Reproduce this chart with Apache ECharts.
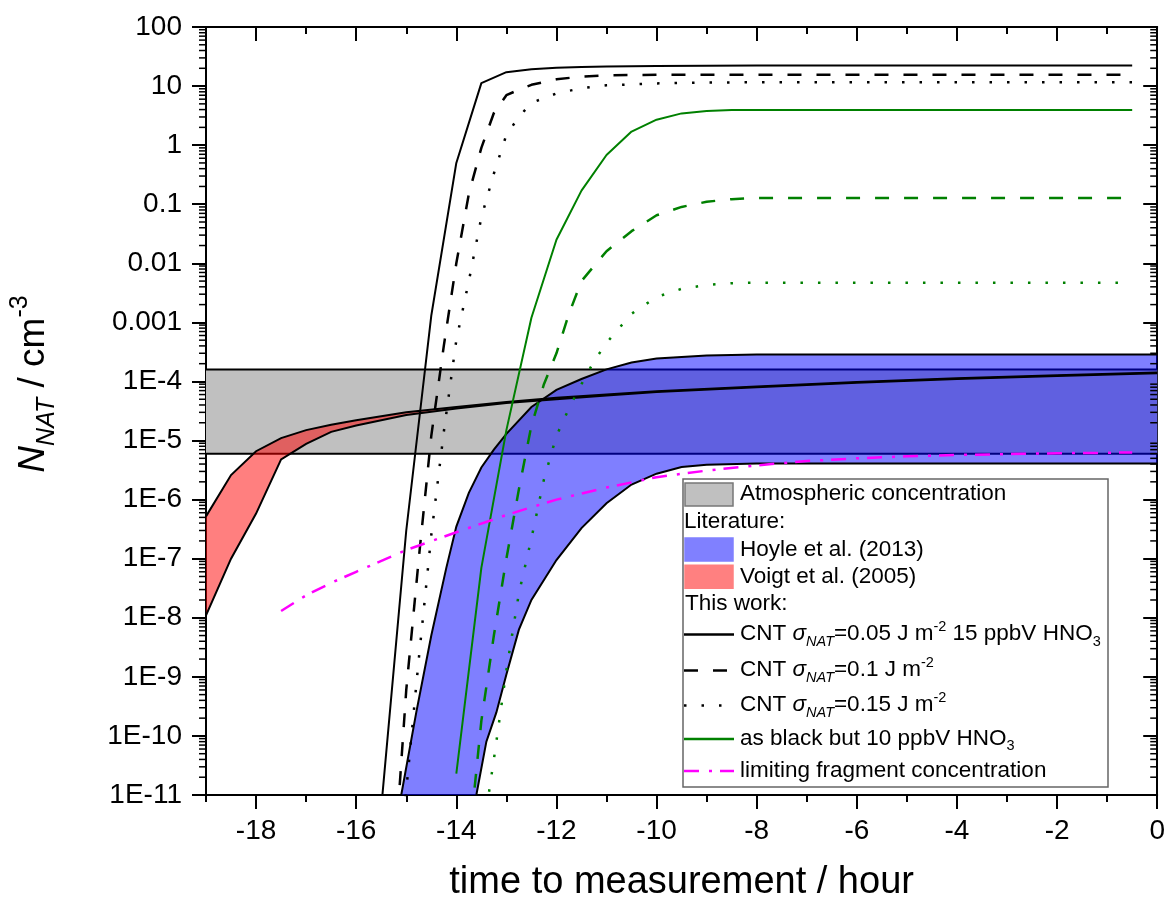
<!DOCTYPE html>
<html>
<head>
<meta charset="utf-8">
<script src="https://cdn.jsdelivr.net/npm/echarts@6/dist/echarts.min.js"></script>
<style>
html, body { margin: 0; padding: 0; background: #fff; }
#main { width: 1168px; height: 907px; }
</style>
</head>
<body>
<div id="main"></div>
<script>
// axis ticks
var xMajorTicks = [-18, -16, -14, -12, -10, -8, -6, -4, -2, 0];
var xMinorTicks = [-19, -17, -15, -13, -11, -9, -7, -5, -3, -1];
var yTickLabels = ['1E-11', '1E-10', '1E-9', '1E-8', '1E-7', '1E-6', '1E-5', '1E-4',
                   '0.001', '0.01', '0.1', '1', '10', '100'];
var yMinorSteps = [2, 3, 4, 5, 6, 7, 8, 9];

// atmospheric concentration band (cm^-3)
var atmosX = [-19, 0];
var atmosLow = [6e-6, 6e-6];
var atmosHigh = [1.6e-4, 1.6e-4];

// Hoyle et al. (2013) band
var hoyleUpX = [-15.1, -14.8, -14.5, -14.2, -14, -13.75, -13.5, -13.25, -13, -12.5, -12, -11.5, -11, -10.5, -10, -9, -8, -6, -4, -2, 0];
var hoyleUp = [1e-11, 2.5e-10, 5e-9, 7e-8, 3.5e-7, 1.3e-6, 3.5e-6, 7e-6, 1.3e-5, 3.7e-5, 7.2e-5, 1.1e-4, 1.6e-4, 2.1e-4, 2.45e-4, 2.75e-4, 2.85e-4, 2.85e-4, 2.85e-4, 2.85e-4, 2.85e-4];
var hoyleLowX = [-13.6, -13.4, -13.2, -13, -12.75, -12.5, -12, -11.5, -11, -10.5, -10, -9.5, -9, -8, -6, -4, -2, 0];
var hoyleLow = [1e-11, 8e-11, 2.5e-10, 1.1e-9, 6.3e-9, 2e-8, 9.5e-8, 3.3e-7, 8.7e-7, 1.8e-6, 2.75e-6, 3.55e-6, 3.9e-6, 4.1e-6, 4.1e-6, 4.1e-6, 4.1e-6, 4.1e-6];

// Voigt et al. (2005) band
var voigtX = [-19, -18.5, -18, -17.5, -17, -16.5, -16, -15, -14, -13, -12, -11, -10, -8, -6, -4, -2, 0];
var voigtHigh = [5.2e-7, 2.6e-6, 6.6e-6, 1.1e-5, 1.5e-5, 1.85e-5, 2.2e-5, 3.0e-5, 3.7e-5, 4.5e-5, 5.3e-5, 6.0e-5, 6.8e-5, 8.2e-5, 9.8e-5, 1.13e-4, 1.27e-4, 1.42e-4];
var voigtLow = [1.1e-8, 1.0e-7, 5.8e-7, 4.8e-6, 8.8e-6, 1.4e-5, 1.8e-5, 2.7e-5, 3.5e-5, 4.3e-5, 5.0e-5, 5.8e-5, 6.6e-5, 8.0e-5, 9.5e-5, 1.1e-4, 1.24e-4, 1.38e-4];

// CNT, 15 ppbV HNO3
var cnt005X = [-15.5, -15, -14.5, -14, -13.5, -13, -12.5, -12, -11.5, -11, -10, -9, -8, -6, -4, -2, -0.5];
var cnt005 = [6e-12, 3e-7, 1.3e-3, 0.5, 11.2, 17.2, 19.3, 20.4, 21, 21.4, 21.9, 22.1, 22.2, 22.2, 22.2, 22.2, 22.2];
var cnt01X = [-15.25, -15, -14.75, -14.5, -14.25, -14, -13.75, -13.5, -13.25, -13, -12.75, -12.5, -12, -11.5, -11, -10, -9, -8, -6, -4, -2, -0.5];
var cnt01 = [5e-13, 6e-10, 1e-7, 1.2e-5, 4e-4, 0.01, 0.15, 0.9, 3.5, 7.0, 8.7, 10.5, 13, 14.5, 15.2, 15.5, 15.6, 15.6, 15.6, 15.6, 15.6, 15.6];
var cnt015X = [-15.25, -15, -14.75, -14.5, -14.25, -14, -13.75, -13.5, -13.25, -13, -12.75, -12.5, -12, -11.5, -11, -10, -9, -8, -6, -4, -2, -0.5];
var cnt015 = [8e-14, 1.2e-11, 2e-9, 2.5e-7, 1.4e-5, 5e-4, 5e-3, 0.06, 0.33, 1.5, 3.0, 5.2, 7.5, 9.2, 10.3, 11.1, 11.5, 11.6, 11.6, 11.6, 11.6, 11.6];

// CNT, 10 ppbV HNO3
var hno10aX = [-14, -13.5, -13, -12.5, -12, -11.5, -11, -10.5, -10, -9.5, -9, -8.5, -8, -6, -4, -2, -0.5];
var hno10a = [2.3e-11, 7e-8, 1.5e-5, 1.2e-3, 0.025, 0.17, 0.68, 1.7, 2.7, 3.45, 3.8, 3.92, 3.95, 3.95, 3.95, 3.95, 3.95];
var hno10bX = [-13.75, -13.5, -13.25, -13, -12.75, -12.5, -12.25, -12, -11.75, -11.5, -11.25, -11, -10.5, -10, -9.5, -9, -8.5, -8, -6, -4, -2, -0.5];
var hno10b = [1.4e-12, 1.8e-10, 5e-9, 1e-7, 1.5e-6, 1.8e-5, 9e-5, 3e-4, 1.4e-3, 5e-3, 9e-3, 0.016, 0.035, 0.065, 0.09, 0.11, 0.122, 0.127, 0.128, 0.128, 0.128, 0.128];
var hno10cX = [-13.5, -13.25, -13, -12.75, -12.5, -12.25, -12, -11.75, -11.5, -11.25, -11, -10.5, -10, -9.5, -9, -8.5, -8, -6, -4, -2, -0.5];
var hno10c = [1.5e-12, 4e-11, 1.3e-9, 2.6e-8, 2.2e-7, 2.2e-6, 1.2e-5, 3.5e-5, 9e-5, 2.2e-4, 4.5e-4, 1.4e-3, 2.7e-3, 3.7e-3, 4.3e-3, 4.6e-3, 4.7e-3, 4.7e-3, 4.7e-3, 4.7e-3, 4.7e-3];

// limiting fragment concentration
var fragX = [-17.5, -17, -16.5, -16, -15, -14, -13, -12, -11, -10, -9, -8, -7, -6, -5, -4, -3, -2, -1, -0.5];
var frag = [1.3e-8, 2.4e-8, 3.9e-8, 6e-8, 1.4e-7, 2.8e-7, 5.5e-7, 1.0e-6, 1.6e-6, 2.4e-6, 3.1e-6, 3.8e-6, 4.5e-6, 5.0e-6, 5.4e-6, 5.7e-6, 5.9e-6, 6.1e-6, 6.2e-6, 6.3e-6];

var FONT = 'Liberation Sans, Arial, sans-serif';

function pairs(xs, ys) {
    return xs.map(function (x, i) { return [x, ys[i]]; });
}

// filled band between two curves, with optional black outlines
function bandSeries(name, upper, lower, fill, edgeWidth) {
    return {
        name: name,
        type: 'custom',
        clip: true,
        silent: true,
        data: [upper[0]],
        renderItem: function (params, api) {
            var up = upper.map(function (p) { return api.coord(p); });
            var lo = lower.map(function (p) { return api.coord(p); });
            var children = [{
                type: 'polygon',
                shape: { points: up.concat(lo.slice().reverse()) },
                style: { fill: fill }
            }];
            if (edgeWidth) {
                children.push({ type: 'polyline', shape: { points: up }, style: { stroke: '#000', lineWidth: edgeWidth, fill: 'none' } });
                children.push({ type: 'polyline', shape: { points: lo }, style: { stroke: '#000', lineWidth: edgeWidth, fill: 'none' } });
            }
            return { type: 'group', children: children };
        }
    };
}

function lineSeries(name, xs, ys, color, dash, width) {
    return {
        name: name,
        type: 'line',
        data: pairs(xs, ys),
        symbol: 'none',
        showSymbol: false,
        silent: true,
        clip: true,
        z: 5,
        lineStyle: { color: color, width: width || 2, type: dash || 'solid' }
    };
}

// log minor ticks on left (outside) and right (inside)
var yMinorTicks = [];
for (var d = -11; d < 2; d++) {
    yMinorSteps.forEach(function (m) { yMinorTicks.push([-19, m * Math.pow(10, d)]); });
}

var minorTickSeries = {
    type: 'custom',
    clip: false,
    silent: true,
    z: 10,
    data: yMinorTicks,
    renderItem: function (params, api) {
        var v = api.value(1);
        var l = api.coord([-19, v]);
        var r = api.coord([0, v]);
        return {
            type: 'group',
            children: [
                { type: 'line', shape: { x1: l[0] - 7, y1: l[1], x2: l[0], y2: l[1] }, style: { stroke: '#000', lineWidth: 1.5 } },
                { type: 'line', shape: { x1: r[0] - 7, y1: r[1], x2: r[0], y2: r[1] }, style: { stroke: '#000', lineWidth: 1.5 } }
            ]
        };
    }
};

var tickLine = { color: '#000', width: 2 };

function xAxisDef(pos, ticks, len, inside, main) {
    return {
        type: 'value',
        position: pos,
        min: -19,
        max: 0,
        axisLine: { show: main, onZero: false, lineStyle: { color: '#000', width: 2 } },
        axisTick: { show: true, customValues: ticks, length: len, inside: inside, lineStyle: tickLine },
        axisLabel: (pos === 'bottom' && main) ? {
            show: true, customValues: xMajorTicks, margin: 22,
            fontSize: 28, fontFamily: FONT, color: '#000'
        } : { show: false },
        splitLine: { show: false }
    };
}

var xAxes = [
    xAxisDef('bottom', xMajorTicks, 14, false, true),
    xAxisDef('bottom', xMinorTicks, 7, false, false),
    xAxisDef('top', xMajorTicks, 14, true, true),
    xAxisDef('top', xMinorTicks, 7, true, false)
];
xAxes[0].name = 'time to measurement / hour';
xAxes[0].nameLocation = 'middle';
xAxes[0].nameGap = 69;
xAxes[0].nameTextStyle = { fontSize: 38, fontFamily: FONT, color: '#000' };

var nameRich = {
    i: { fontSize: 37, fontFamily: FONT, fontStyle: 'italic', lineHeight: 52, color: '#000' },
    sub: { fontSize: 25, fontFamily: FONT, fontStyle: 'italic', lineHeight: 24, verticalAlign: 'bottom', color: '#000' },
    t: { fontSize: 37, fontFamily: FONT, lineHeight: 52, color: '#000' },
    sup: { fontSize: 25, fontFamily: FONT, lineHeight: 24, verticalAlign: 'top', color: '#000' }
};

var yAxes = [{
    type: 'log',
    position: 'left',
    min: 1e-11,
    max: 100,
    interval: 1,
    axisLine: { show: true, onZero: false, lineStyle: { color: '#000', width: 2 } },
    axisTick: { show: true, length: 14, inside: false, lineStyle: tickLine },
    axisLabel: {
        margin: 24, fontSize: 28, fontFamily: FONT, color: '#000',
        formatter: function (v) {
            return yTickLabels[Math.round(Math.log(v) / Math.LN10) + 11] || '';
        }
    },
    splitLine: { show: false },
    name: '{i|N}{sub|NAT}{t| / cm}{sup|-3}',
    nameLocation: 'middle',
    nameGap: 146,
    nameTextStyle: { fontSize: 37, fontFamily: FONT, color: '#000', lineHeight: 52, padding: [0, 0, 0, 54], rich: nameRich }
}, {
    type: 'log',
    position: 'right',
    min: 1e-11,
    max: 100,
    interval: 1,
    axisLine: { show: true, onZero: false, lineStyle: { color: '#000', width: 2 } },
    axisTick: { show: true, length: 14, inside: true, lineStyle: tickLine },
    axisLabel: { show: false },
    splitLine: { show: false }
}];

// legend drawn as graphic elements
var legRich = {
    i: { fontSize: 22.5, fontFamily: FONT, fontStyle: 'italic', lineHeight: 30, fill: '#000' },
    sub: { fontSize: 14.5, fontFamily: FONT, fontStyle: 'italic', lineHeight: 14, verticalAlign: 'bottom', fill: '#000' },
    s: { fontSize: 14.5, fontFamily: FONT, lineHeight: 14, verticalAlign: 'bottom', fill: '#000' },
    sup: { fontSize: 14.5, fontFamily: FONT, lineHeight: 14, verticalAlign: 'top', fill: '#000' }
};
var legend = [];
legend.push({ type: 'rect', z: 100, shape: { x: 683, y: 479, width: 425, height: 308 }, style: { fill: '#fff', stroke: '#666', lineWidth: 1.5 } });
function swatch(y, fill, stroke) {
    legend.push({ type: 'rect', z: 101, shape: { x: 685, y: y - 11.5, width: 48, height: 23 }, style: { fill: fill, stroke: stroke, lineWidth: 1.5 } });
}
function sample(y, color, dash) {
    legend.push({ type: 'line', z: 101, shape: { x1: 684, y1: y, x2: 734, y2: y }, style: { stroke: color, lineWidth: 2.5, lineDash: dash } });
}
function label(x, y, text) {
    legend.push({ type: 'text', z: 101, x: x, y: y, style: {
        text: text, fontSize: 22.5, fontFamily: FONT, fill: '#000',
        verticalAlign: 'middle', align: 'left', lineHeight: 30, rich: legRich
    } });
}
swatch(494.5, '#c0c0c0', '#777');
label(740, 494, 'Atmospheric concentration');
label(684, 521.5, 'Literature:');
swatch(549.5, '#8080ff', '#8080ff');
label(740, 549.5, 'Hoyle et al. (2013)');
swatch(576.7, '#ff8080', '#ff8080');
label(740, 576.5, 'Voigt et al. (2005)');
label(685, 604, 'This work:');
sample(634.5, '#000', null);
label(740, 634, 'CNT {i|σ}{sub|NAT}=0.05 J m{sup|-2} 15 ppbV HNO{s|3}');
sample(670.5, '#000', [14, 15]);
label(740, 670, 'CNT {i|σ}{sub|NAT}=0.1 J m{sup|-2}');
sample(705.5, '#000', [2.5, 15]);
label(740, 705, 'CNT {i|σ}{sub|NAT}=0.15 J m{sup|-2}');
sample(739, '#008000', null);
label(740, 738.5, 'as black but 10 ppbV HNO{s|3}');
sample(771, '#ff00ff', [15, 10, 3, 8]);
label(740, 770.5, 'limiting fragment concentration');

var myChart = echarts.init(document.getElementById('main'));

var option = {
    animation: false,
    backgroundColor: '#fff',
    grid: { left: 203, right: 10, top: 27, bottom: 110 },
    xAxis: xAxes,
    yAxis: yAxes,
    series: [
        bandSeries('Atmospheric concentration', pairs(atmosX, atmosHigh), pairs(atmosX, atmosLow), '#c0c0c0', 2),
        bandSeries('Hoyle et al. (2013)', pairs(hoyleUpX, hoyleUp), pairs(hoyleLowX, hoyleLow), 'rgba(0,0,255,0.5)', 0),
        bandSeries('Voigt et al. (2005)', pairs(voigtX, voigtHigh), pairs(voigtX, voigtLow), 'rgba(255,0,0,0.5)', 2),
        {
            // black outlines of the Hoyle band, above the fills
            type: 'custom', clip: true, silent: true, z: 3,
            data: [[hoyleUpX[0], hoyleUp[0]]],
            renderItem: function (params, api) {
                var up = pairs(hoyleUpX, hoyleUp).map(function (p) { return api.coord(p); });
                var lo = pairs(hoyleLowX, hoyleLow).map(function (p) { return api.coord(p); });
                return { type: 'group', children: [
                    { type: 'polyline', shape: { points: up }, style: { stroke: '#000', lineWidth: 2, fill: 'none' } },
                    { type: 'polyline', shape: { points: lo }, style: { stroke: '#000', lineWidth: 2, fill: 'none' } }
                ] };
            }
        },
        lineSeries('CNT 0.05', cnt005X, cnt005, '#000', 'solid', 2),
        lineSeries('CNT 0.1', cnt01X, cnt01, '#000', [14, 15], 2.5),
        lineSeries('CNT 0.15', cnt015X, cnt015, '#000', [2.5, 15], 2.5),
        lineSeries('10 ppbV 0.05', hno10aX, hno10a, '#008000', 'solid', 2),
        lineSeries('10 ppbV 0.1', hno10bX, hno10b, '#008000', [14, 15], 2.5),
        lineSeries('10 ppbV 0.15', hno10cX, hno10c, '#008000', [2.5, 15], 2.5),
        lineSeries('limiting fragment concentration', fragX, frag, '#ff00ff', [15, 10, 3, 8], 2.5),
        minorTickSeries
    ],
    graphic: { elements: legend }
};

myChart.setOption(option);
</script>
</body>
</html>
